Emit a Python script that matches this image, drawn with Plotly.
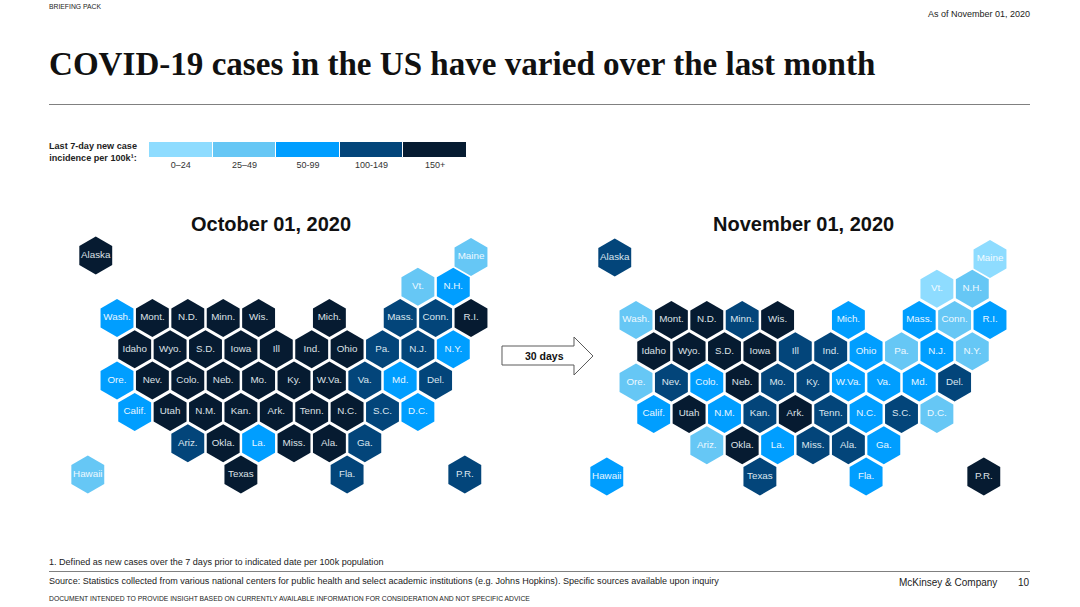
import plotly.graph_objects as go

# bins and colours
bin_labels = ["0–24", "25–49", "50-99", "100-149", "150+"]
bin_colors = ["#8EDCFF", "#66C7F5", "#009EFF", "#03457A", "#061B31"]
text_colors = ["#F2FBFF", "#EEF9FF", "#E8F6FF", "#DCE6EE", "#DDE1E6"]

# tile grid, col in half steps, row in row steps
states = ["Alaska", "Maine", "Vt.", "N.H.",
          "Wash.", "Mont.", "N.D.", "Minn.", "Wis.", "Mich.", "Mass.", "Conn.", "R.I.",
          "Idaho", "Wyo.", "S.D.", "Iowa", "Ill", "Ind.", "Ohio", "Pa.", "N.J.", "N.Y.",
          "Ore.", "Nev.", "Colo.", "Neb.", "Mo.", "Ky.", "W.Va.", "Va.", "Md.", "Del.",
          "Calif.", "Utah", "N.M.", "Kan.", "Ark.", "Tenn.", "N.C.", "S.C.", "D.C.",
          "Ariz.", "Okla.", "La.", "Miss.", "Ala.", "Ga.",
          "Hawaii", "Texas", "Fla.", "P.R."]
cols = [-1.2, 20, 17, 19,
        0, 2, 4, 6, 8, 12, 16, 18, 20,
        1, 3, 5, 7, 9, 11, 13, 15, 17, 19,
        0, 2, 4, 6, 8, 10, 12, 14, 16, 18,
        1, 3, 5, 7, 9, 11, 13, 15, 17,
        4, 6, 8, 10, 12, 14,
        -1.65, 7, 13, 19.65]
rows = [-2, -1.95, -1, -1,
        0, 0, 0, 0, 0, 0, 0, 0, 0,
        1, 1, 1, 1, 1, 1, 1, 1, 1, 1,
        2, 2, 2, 2, 2, 2, 2, 2, 2, 2,
        3, 3, 3, 3, 3, 3, 3, 3, 3,
        4, 4, 4, 4, 4, 4,
        5, 5, 5, 5]

oct_bins = [4, 1, 1, 2,
            2, 4, 4, 4, 4, 4, 3, 3, 4,
            4, 4, 4, 4, 4, 4, 4, 3, 3, 2,
            2, 4, 4, 4, 4, 4, 4, 3, 2, 3,
            2, 4, 4, 4, 4, 4, 4, 3, 2,
            3, 4, 2, 4, 4, 3,
            1, 4, 3, 3]
nov_bins = [3, 0, 0, 1,
            1, 4, 4, 3, 4, 2, 2, 1, 2,
            4, 4, 4, 4, 3, 3, 2, 1, 2, 1,
            1, 3, 2, 4, 3, 3, 2, 2, 2, 3,
            2, 4, 2, 3, 4, 3, 2, 3, 1,
            1, 4, 2, 3, 3, 2,
            2, 3, 2, 4]

W, H = 1080, 607
COL_PX, ROW_PX = 17.7, 31.3


def px(x):
    return x / W


def py(y):
    return 1 - y / H


def label(text, x, y, size, color="#222222", bold=False, anchor="left", family="Liberation Sans"):
    return dict(text="<b>%s</b>" % text if bold else text, x=px(x), y=py(y), xref="paper", yref="paper",
                xanchor=anchor, yanchor="middle", showarrow=False, borderpad=0, borderwidth=0,
                font=dict(family=family, size=size, color=color))


def hex_trace(bins, xaxis, yaxis):
    return go.Scatter(x=cols, y=rows, text=states, mode="markers+text", xaxis=xaxis, yaxis=yaxis,
                      textposition="middle center", hoverinfo="text", showlegend=False,
                      marker=dict(symbol="hexagon", size=38, color=[bin_colors[b] for b in bins], line=dict(width=0)),
                      textfont=dict(family="Liberation Sans", size=9.8, color=[text_colors[b] for b in bins]))


fig = go.Figure()
fig.add_trace(hex_trace(oct_bins, "x", "y"))
fig.add_trace(hex_trace(nov_bins, "x2", "y2"))
fig.add_trace(go.Bar(x=bin_labels, y=[1] * len(bin_labels), marker=dict(color=bin_colors, line=dict(color="white", width=1)),
                     xaxis="x3", yaxis="y3", showlegend=False, hoverinfo="x"))

hidden = dict(visible=False, fixedrange=True)
fig.update_layout(
    width=W, height=H, margin=dict(l=0, r=0, t=0, b=0), paper_bgcolor="white", plot_bgcolor="rgba(0,0,0,0)", bargap=0,
    xaxis=dict(domain=[0, 0.5], range=[(0 - 117) / COL_PX, (540 - 117) / COL_PX], **hidden),
    yaxis=dict(domain=[0, 1], range=[(607 - 318) / ROW_PX, (0 - 318) / ROW_PX], **hidden),
    xaxis2=dict(domain=[0.5, 1], range=[(540 - 636) / COL_PX, (1080 - 636) / COL_PX], **hidden),
    yaxis2=dict(domain=[0, 1], anchor="x2", range=[(607 - 320) / ROW_PX, (0 - 320) / ROW_PX], **hidden),
    xaxis3=dict(domain=[px(149), px(467)], anchor="y3", type="category", showline=False, showgrid=False, ticks="",
                tickfont=dict(family="Liberation Sans", size=9, color="#333333"), fixedrange=True),
    yaxis3=dict(domain=[py(158), py(142)], anchor="x3", range=[0, 1], **hidden),
)

fig.update_layout(annotations=[
    label("BRIEFING PACK", 49, 6, 6.8),
    label("As of November 01, 2020", 1030, 14, 9, anchor="right"),
    label("COVID-19 cases in the US have varied over the last month", 49, 64, 33.1, color="#111111", bold=True,
          family="Liberation Serif"),
    label("Last 7-day new case<br>incidence per 100k¹:", 49, 152, 9.1, bold=True),
    label("October 01, 2020", 271, 224, 20, color="#111111", bold=True, anchor="center"),
    label("November 01, 2020", 803, 224, 20, color="#111111", bold=True, anchor="center"),
    label("30 days", 544, 356, 10.5, color="#111111", bold=True, anchor="center"),
    label("1. Defined as new cases over the 7 days prior to indicated date per 100k population", 49, 562, 9.05),
    label("Source: Statistics collected from various national centers for public health and select academic "
          "institutions (e.g. Johns Hopkins). Specific sources available upon inquiry", 49, 581, 9.05),
    label("McKinsey &amp; Company", 899, 582, 10),
    label("10", 1030, 582, 10, anchor="right"),
    label("DOCUMENT INTENDED TO PROVIDE INSIGHT BASED ON CURRENTLY AVAILABLE INFORMATION FOR CONSIDERATION AND NOT "
          "SPECIFIC ADVICE", 49, 598, 6.8),
])

arrow_pts = [(502, 346), (574, 346), (574, 337), (593, 356), (574, 375), (574, 365), (502, 365)]
arrow_path = "M " + " L ".join("%.5f,%.5f" % (px(a), py(b)) for a, b in arrow_pts) + " Z"

fig.update_layout(shapes=[
    dict(type="line", xref="paper", yref="paper", x0=px(49), x1=px(1030), y0=py(104.5), y1=py(104.5),
         line=dict(color="#808080", width=1)),
    dict(type="line", xref="paper", yref="paper", x0=px(49), x1=px(1030), y0=py(571.5), y1=py(571.5),
         line=dict(color="#808080", width=1)),
    dict(type="path", xref="paper", yref="paper", path=arrow_path, fillcolor="white",
         line=dict(color="#5A5A5A", width=1)),
])

fig.write_html("out.html", config={"displayModeBar": False},
               post_script="document.body.style.margin='0';")
